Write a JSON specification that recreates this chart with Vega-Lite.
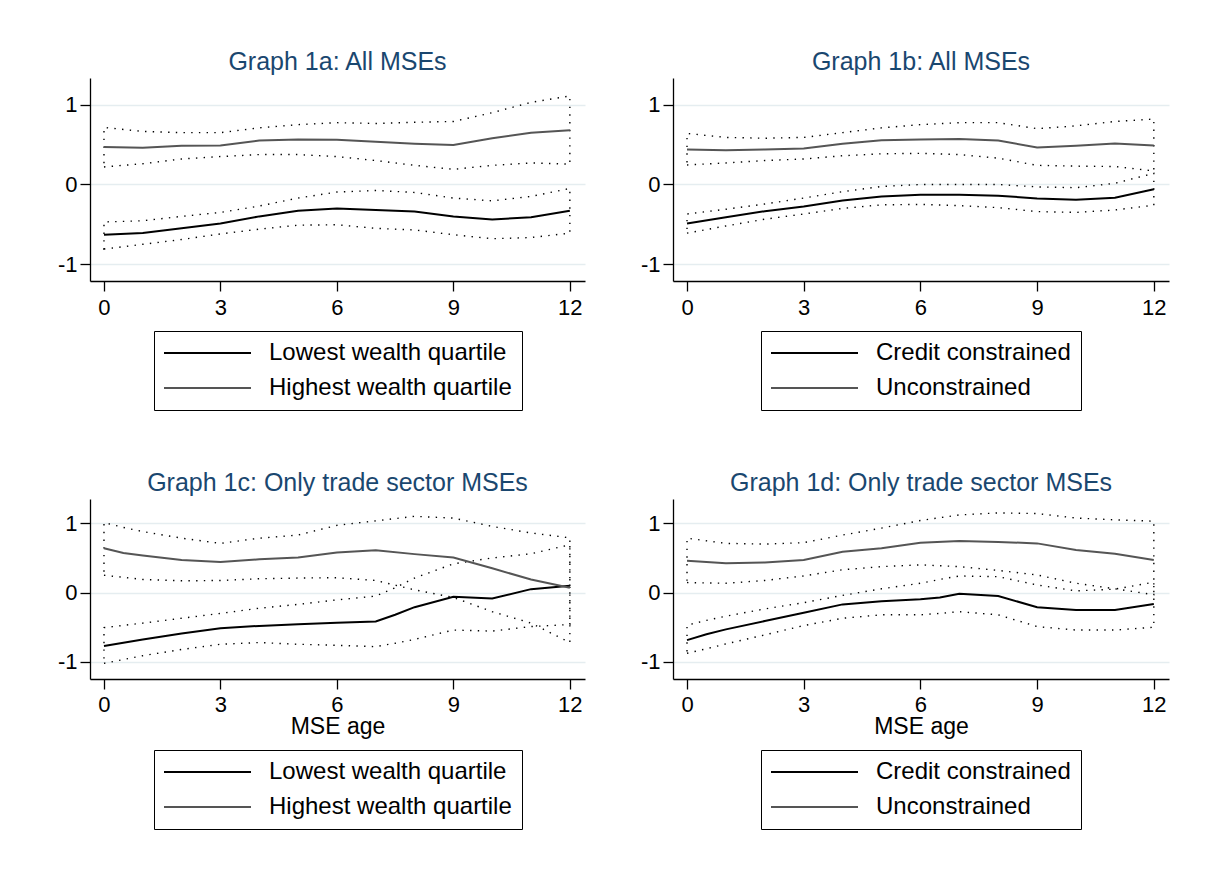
{
"$schema": "https://vega.github.io/schema/vega-lite/v6.json",
"background": "white",
"padding": {"left": 57, "top": 50, "right": 5, "bottom": 5},
"datasets": {"d": [
{"p":"a","g":"Lowest wealth quartile","x":0,"e":-0.63,"lo":-0.81,"hi":-0.47},
{"p":"a","g":"Lowest wealth quartile","x":1,"e":-0.607,"lo":-0.75,"hi":-0.455},
{"p":"a","g":"Lowest wealth quartile","x":2,"e":-0.55,"lo":-0.69,"hi":-0.40},
{"p":"a","g":"Lowest wealth quartile","x":3,"e":-0.49,"lo":-0.62,"hi":-0.35},
{"p":"a","g":"Lowest wealth quartile","x":4,"e":-0.40,"lo":-0.56,"hi":-0.27},
{"p":"a","g":"Lowest wealth quartile","x":5,"e":-0.33,"lo":-0.51,"hi":-0.17},
{"p":"a","g":"Lowest wealth quartile","x":6,"e":-0.30,"lo":-0.505,"hi":-0.095},
{"p":"a","g":"Lowest wealth quartile","x":7,"e":-0.32,"lo":-0.55,"hi":-0.075},
{"p":"a","g":"Lowest wealth quartile","x":8,"e":-0.34,"lo":-0.57,"hi":-0.10},
{"p":"a","g":"Lowest wealth quartile","x":9,"e":-0.40,"lo":-0.63,"hi":-0.17},
{"p":"a","g":"Lowest wealth quartile","x":10,"e":-0.44,"lo":-0.68,"hi":-0.205},
{"p":"a","g":"Lowest wealth quartile","x":11,"e":-0.41,"lo":-0.665,"hi":-0.15},
{"p":"a","g":"Lowest wealth quartile","x":12,"e":-0.33,"lo":-0.61,"hi":-0.05},
{"p":"a","g":"Highest wealth quartile","x":0,"e":0.47,"lo":0.22,"hi":0.715},
{"p":"a","g":"Highest wealth quartile","x":1,"e":0.46,"lo":0.26,"hi":0.665},
{"p":"a","g":"Highest wealth quartile","x":2,"e":0.485,"lo":0.32,"hi":0.65},
{"p":"a","g":"Highest wealth quartile","x":3,"e":0.49,"lo":0.35,"hi":0.65},
{"p":"a","g":"Highest wealth quartile","x":4,"e":0.55,"lo":0.375,"hi":0.71},
{"p":"a","g":"Highest wealth quartile","x":5,"e":0.565,"lo":0.375,"hi":0.75},
{"p":"a","g":"Highest wealth quartile","x":6,"e":0.56,"lo":0.35,"hi":0.775},
{"p":"a","g":"Highest wealth quartile","x":7,"e":0.535,"lo":0.30,"hi":0.765},
{"p":"a","g":"Highest wealth quartile","x":8,"e":0.51,"lo":0.24,"hi":0.78},
{"p":"a","g":"Highest wealth quartile","x":9,"e":0.495,"lo":0.19,"hi":0.79},
{"p":"a","g":"Highest wealth quartile","x":10,"e":0.58,"lo":0.24,"hi":0.90},
{"p":"a","g":"Highest wealth quartile","x":11,"e":0.65,"lo":0.27,"hi":1.03},
{"p":"a","g":"Highest wealth quartile","x":12,"e":0.68,"lo":0.255,"hi":1.11},
{"p":"b","g":"Credit constrained","x":0,"e":-0.49,"lo":-0.61,"hi":-0.37},
{"p":"b","g":"Credit constrained","x":1,"e":-0.41,"lo":-0.52,"hi":-0.31},
{"p":"b","g":"Credit constrained","x":2,"e":-0.335,"lo":-0.435,"hi":-0.245},
{"p":"b","g":"Credit constrained","x":3,"e":-0.275,"lo":-0.37,"hi":-0.17},
{"p":"b","g":"Credit constrained","x":4,"e":-0.20,"lo":-0.30,"hi":-0.09},
{"p":"b","g":"Credit constrained","x":5,"e":-0.15,"lo":-0.255,"hi":-0.025},
{"p":"b","g":"Credit constrained","x":6,"e":-0.13,"lo":-0.25,"hi":0.0},
{"p":"b","g":"Credit constrained","x":7,"e":-0.13,"lo":-0.265,"hi":0.0},
{"p":"b","g":"Credit constrained","x":8,"e":-0.14,"lo":-0.29,"hi":0.0},
{"p":"b","g":"Credit constrained","x":9,"e":-0.175,"lo":-0.34,"hi":-0.03},
{"p":"b","g":"Credit constrained","x":10,"e":-0.19,"lo":-0.35,"hi":-0.04},
{"p":"b","g":"Credit constrained","x":11,"e":-0.165,"lo":-0.32,"hi":0.015},
{"p":"b","g":"Credit constrained","x":12,"e":-0.06,"lo":-0.26,"hi":0.14},
{"p":"b","g":"Unconstrained","x":0,"e":0.44,"lo":0.245,"hi":0.64},
{"p":"b","g":"Unconstrained","x":1,"e":0.43,"lo":0.27,"hi":0.59},
{"p":"b","g":"Unconstrained","x":2,"e":0.44,"lo":0.30,"hi":0.58},
{"p":"b","g":"Unconstrained","x":3,"e":0.45,"lo":0.32,"hi":0.59},
{"p":"b","g":"Unconstrained","x":4,"e":0.51,"lo":0.36,"hi":0.65},
{"p":"b","g":"Unconstrained","x":5,"e":0.555,"lo":0.385,"hi":0.71},
{"p":"b","g":"Unconstrained","x":6,"e":0.565,"lo":0.39,"hi":0.75},
{"p":"b","g":"Unconstrained","x":7,"e":0.57,"lo":0.375,"hi":0.775},
{"p":"b","g":"Unconstrained","x":8,"e":0.55,"lo":0.33,"hi":0.775},
{"p":"b","g":"Unconstrained","x":9,"e":0.465,"lo":0.24,"hi":0.70},
{"p":"b","g":"Unconstrained","x":10,"e":0.485,"lo":0.23,"hi":0.735},
{"p":"b","g":"Unconstrained","x":11,"e":0.515,"lo":0.225,"hi":0.79},
{"p":"b","g":"Unconstrained","x":12,"e":0.49,"lo":0.17,"hi":0.82},
{"p":"c","g":"Lowest wealth quartile","x":0,"e":-0.77,"lo":-1.02,"hi":-0.505},
{"p":"c","g":"Lowest wealth quartile","x":1,"e":-0.675,"lo":-0.91,"hi":-0.44},
{"p":"c","g":"Lowest wealth quartile","x":2,"e":-0.59,"lo":-0.82,"hi":-0.37},
{"p":"c","g":"Lowest wealth quartile","x":3,"e":-0.515,"lo":-0.745,"hi":-0.30},
{"p":"c","g":"Lowest wealth quartile","x":4,"e":-0.48,"lo":-0.72,"hi":-0.225},
{"p":"c","g":"Lowest wealth quartile","x":5,"e":-0.455,"lo":-0.745,"hi":-0.17},
{"p":"c","g":"Lowest wealth quartile","x":6,"e":-0.435,"lo":-0.76,"hi":-0.105},
{"p":"c","g":"Lowest wealth quartile","x":7,"e":-0.415,"lo":-0.78,"hi":-0.05},
{"p":"c","g":"Lowest wealth quartile","x":7.5,"e":-0.32,"lo":-0.73,"hi":0.07},
{"p":"c","g":"Lowest wealth quartile","x":8,"e":-0.21,"lo":-0.675,"hi":0.21},
{"p":"c","g":"Lowest wealth quartile","x":9,"e":-0.06,"lo":-0.54,"hi":0.415},
{"p":"c","g":"Lowest wealth quartile","x":10,"e":-0.085,"lo":-0.555,"hi":0.50},
{"p":"c","g":"Lowest wealth quartile","x":11,"e":0.05,"lo":-0.49,"hi":0.56},
{"p":"c","g":"Lowest wealth quartile","x":12,"e":0.10,"lo":-0.46,"hi":0.69},
{"p":"c","g":"Highest wealth quartile","x":0,"e":0.64,"lo":0.25,"hi":1.01},
{"p":"c","g":"Highest wealth quartile","x":0.5,"e":0.57,"lo":0.22,"hi":0.94},
{"p":"c","g":"Highest wealth quartile","x":1,"e":0.535,"lo":0.19,"hi":0.88},
{"p":"c","g":"Highest wealth quartile","x":2,"e":0.47,"lo":0.17,"hi":0.785},
{"p":"c","g":"Highest wealth quartile","x":3,"e":0.44,"lo":0.175,"hi":0.71},
{"p":"c","g":"Highest wealth quartile","x":4,"e":0.48,"lo":0.20,"hi":0.785},
{"p":"c","g":"Highest wealth quartile","x":5,"e":0.505,"lo":0.21,"hi":0.83},
{"p":"c","g":"Highest wealth quartile","x":6,"e":0.58,"lo":0.215,"hi":0.97},
{"p":"c","g":"Highest wealth quartile","x":7,"e":0.61,"lo":0.175,"hi":1.035},
{"p":"c","g":"Highest wealth quartile","x":8,"e":0.555,"lo":0.04,"hi":1.10},
{"p":"c","g":"Highest wealth quartile","x":9,"e":0.505,"lo":-0.07,"hi":1.075},
{"p":"c","g":"Highest wealth quartile","x":10,"e":0.35,"lo":-0.275,"hi":0.955},
{"p":"c","g":"Highest wealth quartile","x":11,"e":0.19,"lo":-0.44,"hi":0.86},
{"p":"c","g":"Highest wealth quartile","x":12,"e":0.07,"lo":-0.72,"hi":0.79},
{"p":"d","g":"Credit constrained","x":0,"e":-0.685,"lo":-0.875,"hi":-0.47},
{"p":"d","g":"Credit constrained","x":0.5,"e":-0.60,"lo":-0.81,"hi":-0.40},
{"p":"d","g":"Credit constrained","x":1,"e":-0.53,"lo":-0.74,"hi":-0.34},
{"p":"d","g":"Credit constrained","x":2,"e":-0.41,"lo":-0.61,"hi":-0.235},
{"p":"d","g":"Credit constrained","x":3,"e":-0.29,"lo":-0.475,"hi":-0.145},
{"p":"d","g":"Credit constrained","x":4,"e":-0.17,"lo":-0.37,"hi":-0.04},
{"p":"d","g":"Credit constrained","x":5,"e":-0.125,"lo":-0.32,"hi":0.055},
{"p":"d","g":"Credit constrained","x":6,"e":-0.095,"lo":-0.32,"hi":0.135},
{"p":"d","g":"Credit constrained","x":6.5,"e":-0.07,"lo":-0.30,"hi":0.19},
{"p":"d","g":"Credit constrained","x":7,"e":-0.015,"lo":-0.275,"hi":0.24},
{"p":"d","g":"Credit constrained","x":8,"e":-0.05,"lo":-0.32,"hi":0.23},
{"p":"d","g":"Credit constrained","x":9,"e":-0.21,"lo":-0.49,"hi":0.11},
{"p":"d","g":"Credit constrained","x":10,"e":-0.25,"lo":-0.54,"hi":0.025},
{"p":"d","g":"Credit constrained","x":11,"e":-0.25,"lo":-0.54,"hi":0.05},
{"p":"d","g":"Credit constrained","x":12,"e":-0.165,"lo":-0.50,"hi":0.15},
{"p":"d","g":"Unconstrained","x":0,"e":0.46,"lo":0.145,"hi":0.785},
{"p":"d","g":"Unconstrained","x":1,"e":0.425,"lo":0.135,"hi":0.71},
{"p":"d","g":"Unconstrained","x":2,"e":0.435,"lo":0.175,"hi":0.70},
{"p":"d","g":"Unconstrained","x":3,"e":0.47,"lo":0.24,"hi":0.72},
{"p":"d","g":"Unconstrained","x":4,"e":0.59,"lo":0.33,"hi":0.83},
{"p":"d","g":"Unconstrained","x":5,"e":0.64,"lo":0.375,"hi":0.93},
{"p":"d","g":"Unconstrained","x":6,"e":0.72,"lo":0.40,"hi":1.04},
{"p":"d","g":"Unconstrained","x":7,"e":0.745,"lo":0.375,"hi":1.12},
{"p":"d","g":"Unconstrained","x":8,"e":0.73,"lo":0.32,"hi":1.15},
{"p":"d","g":"Unconstrained","x":9,"e":0.71,"lo":0.255,"hi":1.14},
{"p":"d","g":"Unconstrained","x":10,"e":0.615,"lo":0.135,"hi":1.075},
{"p":"d","g":"Unconstrained","x":11,"e":0.56,"lo":0.055,"hi":1.05},
{"p":"d","g":"Unconstrained","x":12,"e":0.47,"lo":-0.03,"hi":1.03}
]},
"vconcat": [
{"hconcat": [
 {"width": 495, "height": 203, "title": "Graph 1a: All MSEs",
  "data": {"name": "d"}, "transform": [{"filter": "datum.p == 'a'"}],
  "encoding": {"x": {"field": "x", "type": "quantitative", "scale": {"domain": [-0.36, 12.39], "nice": false, "zero": false}, "axis": {"values": [0,3,6,9,12], "title": null}}},
  "layer": [
   {"mark": {"type": "area", "fill": "transparent", "stroke": "black", "strokeWidth": 1.4, "strokeDash": [1.4, 6.3], "strokeCap": "butt"},
    "encoding": {"y": {"field": "lo", "type": "quantitative", "scale": {"domain": [-1.21, 1.335], "nice": false, "zero": false}, "axis": {"values": [-1,0,1], "title": null, "labelExpr": "datum.value + ''"}}, "y2": {"field": "hi"}, "detail": {"field": "g"}}},
   {"mark": {"type": "line", "strokeWidth": 2},
    "encoding": {"y": {"field": "e", "type": "quantitative"}, "color": {"field": "g", "type": "nominal", "scale": {"domain": ["Lowest wealth quartile", "Highest wealth quartile"], "range": ["#000000", "#555555"]}, "legend": {"title": null}}}}
  ]},
 {"width": 496, "height": 203, "title": "Graph 1b: All MSEs",
  "data": {"name": "d"}, "transform": [{"filter": "datum.p == 'b'"}],
  "encoding": {"x": {"field": "x", "type": "quantitative", "scale": {"domain": [-0.36, 12.39], "nice": false, "zero": false}, "axis": {"values": [0,3,6,9,12], "title": null}}},
  "layer": [
   {"mark": {"type": "area", "fill": "transparent", "stroke": "black", "strokeWidth": 1.4, "strokeDash": [1.4, 6.3], "strokeCap": "butt"},
    "encoding": {"y": {"field": "lo", "type": "quantitative", "scale": {"domain": [-1.21, 1.335], "nice": false, "zero": false}, "axis": {"values": [-1,0,1], "title": null, "labelExpr": "datum.value + ''"}}, "y2": {"field": "hi"}, "detail": {"field": "g"}}},
   {"mark": {"type": "line", "strokeWidth": 2},
    "encoding": {"y": {"field": "e", "type": "quantitative"}, "color": {"field": "g", "type": "nominal", "scale": {"domain": ["Credit constrained", "Unconstrained"], "range": ["#000000", "#555555"]}, "legend": {"title": null}}}}
  ]}
 ], "spacing": 55, "resolve": {"scale": {"color": "independent", "x": "independent", "y": "independent"}, "legend": {"color": "independent"}}},
{"hconcat": [
 {"width": 495, "height": 180, "title": "Graph 1c: Only trade sector MSEs",
  "data": {"name": "d"}, "transform": [{"filter": "datum.p == 'c'"}],
  "encoding": {"x": {"field": "x", "type": "quantitative", "scale": {"domain": [-0.36, 12.39], "nice": false, "zero": false}, "axis": {"values": [0,3,6,9,12], "title": "MSE age", "labelPadding": 5, "titlePadding": 0}}},
  "layer": [
   {"mark": {"type": "area", "fill": "transparent", "stroke": "black", "strokeWidth": 1.4, "strokeDash": [1.4, 6.3], "strokeCap": "butt"},
    "encoding": {"y": {"field": "lo", "type": "quantitative", "scale": {"domain": [-1.246, 1.35], "nice": false, "zero": false}, "axis": {"values": [-1,0,1], "title": null, "labelExpr": "datum.value + ''"}}, "y2": {"field": "hi"}, "detail": {"field": "g"}}},
   {"mark": {"type": "line", "strokeWidth": 2},
    "encoding": {"y": {"field": "e", "type": "quantitative"}, "color": {"field": "g", "type": "nominal", "scale": {"domain": ["Lowest wealth quartile", "Highest wealth quartile"], "range": ["#000000", "#555555"]}, "legend": {"title": null, "offset": 12}}}}
  ]},
 {"width": 496, "height": 180, "title": "Graph 1d: Only trade sector MSEs",
  "data": {"name": "d"}, "transform": [{"filter": "datum.p == 'd'"}],
  "encoding": {"x": {"field": "x", "type": "quantitative", "scale": {"domain": [-0.36, 12.39], "nice": false, "zero": false}, "axis": {"values": [0,3,6,9,12], "title": "MSE age", "labelPadding": 5, "titlePadding": 0}}},
  "layer": [
   {"mark": {"type": "area", "fill": "transparent", "stroke": "black", "strokeWidth": 1.4, "strokeDash": [1.4, 6.3], "strokeCap": "butt"},
    "encoding": {"y": {"field": "lo", "type": "quantitative", "scale": {"domain": [-1.246, 1.35], "nice": false, "zero": false}, "axis": {"values": [-1,0,1], "title": null, "labelExpr": "datum.value + ''"}}, "y2": {"field": "hi"}, "detail": {"field": "g"}}},
   {"mark": {"type": "line", "strokeWidth": 2},
    "encoding": {"y": {"field": "e", "type": "quantitative"}, "color": {"field": "g", "type": "nominal", "scale": {"domain": ["Credit constrained", "Unconstrained"], "range": ["#000000", "#555555"]}, "legend": {"title": null, "offset": 12}}}}
  ]}
 ], "spacing": 55, "resolve": {"scale": {"color": "independent", "x": "independent", "y": "independent"}, "legend": {"color": "independent"}}}
],
"spacing": 60,
"resolve": {"scale": {"color": "independent", "x": "independent", "y": "independent"}, "legend": {"color": "independent"}},
"config": {
 "view": {"stroke": null},
 "font": "Liberation Sans",
 "axis": {"domainColor": "black", "domainWidth": 1.3, "tickColor": "black", "tickWidth": 1.3, "tickSize": 10, "labelColor": "black", "labelFontSize": 22, "labelFont": "Liberation Sans", "titleFont": "Liberation Sans", "titleFontSize": 23, "titleFontWeight": "normal", "titleColor": "black", "gridColor": "#e5edf0", "gridWidth": 1.5},
 "axisX": {"grid": false, "labelPadding": 6, "titlePadding": 1},
 "axisY": {"grid": true, "labelPadding": 3},
 "title": {"fontSize": 25, "fontWeight": "normal", "color": "#1a476f", "font": "Liberation Sans", "anchor": "middle", "offset": 3},
 "legend": {"orient": "bottom", "direction": "vertical", "strokeColor": "black", "padding": 10, "labelFontSize": 24, "labelFont": "Liberation Sans", "labelColor": "black", "labelLimit": 500, "symbolType": "M-1.2,0H7.5", "symbolSize": 400, "symbolStrokeWidth": 2, "labelOffset": 81, "rowPadding": 11, "offset": 13, "layout": {"bottom": {"anchor": "middle"}}}
}
}
